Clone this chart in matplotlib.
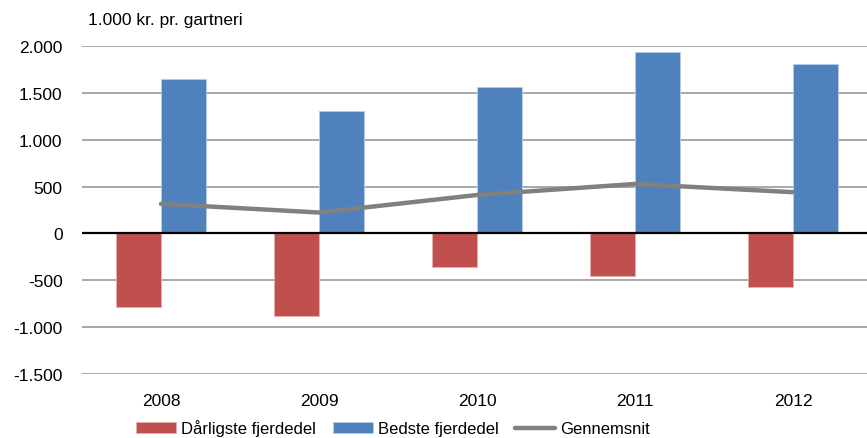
import matplotlib.pyplot as plt
import numpy as np

plt.rcParams['font.family'] = ['Liberation Sans', 'DejaVu Sans']

years = ['2008', '2009', '2010', '2011', '2012']
worst = [-787, -876, -354, -457, -570]
best = [1646, 1309, 1564, 1933, 1805]
average = [316, 223, 410, 528, 440]

fig = plt.figure(figsize=(8.67, 4.39), dpi=100)
ax = fig.add_axes([82 / 867, 64 / 439, 1 - 82 / 867, 328 / 439])

x = np.arange(len(years))
w = 0.285
b1 = ax.bar(x - w / 2, worst, w, color='#C0504D', edgecolor='#E6B0AE', linewidth=0.6,
            label='Dårligste fjerdedel', zorder=3)
b2 = ax.bar(x + w / 2, best, w, color='#4F81BD', edgecolor='#B7CDE8', linewidth=0.6,
            label='Bedste fjerdedel', zorder=3)
l1, = ax.plot(x, average, color='#808080', linewidth=3.2, solid_capstyle='round',
              label='Gennemsnit', zorder=4)

ax.axhline(0, color='black', linewidth=1.6, zorder=5)
ax.set_ylim(-1500, 2000)
ax.set_xlim(-0.5, 4.468)
ax.set_yticks(range(-1500, 2001, 500))
ax.set_yticklabels([f'{v:,}'.replace(',', '.') for v in range(-1500, 2001, 500)])
ax.set_xticks(x)
ax.set_xticklabels(years)
ax.yaxis.grid(True, color='#9A9A9A', linewidth=1.2, zorder=0)
ax.set_axisbelow(True)
for s in ax.spines.values():
    s.set_visible(False)
ax.tick_params(axis='both', length=0, labelsize=12.5)
ax.tick_params(axis='y', pad=14)
ax.tick_params(axis='x', pad=14)

fig.text(88 / 867, 1 - 20 / 439, '1.000 kr. pr. gartneri', fontsize=12.5, va='center')

fig.legend(handles=[b1, b2, l1], loc='center left', bbox_to_anchor=(128 / 867, 1 - 429 / 439),
           ncol=3, frameon=False, fontsize=12, handlelength=2.4, handleheight=0.7,
           handletextpad=0.3, columnspacing=1.0, borderpad=0)

fig.savefig('out.png', dpi=100)
